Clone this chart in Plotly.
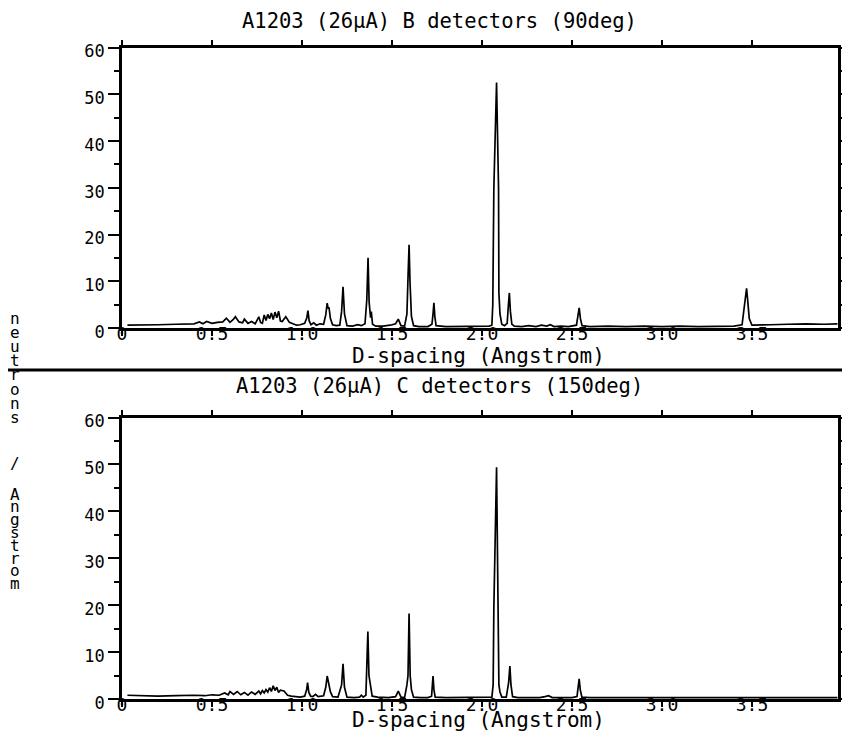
import plotly.graph_objects as go

# ---------------- data ----------------
# Panel 1: B detectors (90deg)
d_B = [
    0.03, 0.10, 0.20, 0.30, 0.36, 0.40,
    0.43, 0.45, 0.47, 0.50, 0.53, 0.56, 0.58, 0.60, 0.62, 0.63,
    0.65, 0.67, 0.68, 0.70, 0.72, 0.74, 0.76, 0.77, 0.78, 0.79,
    0.80, 0.81, 0.82, 0.83, 0.84, 0.85, 0.86, 0.87, 0.88, 0.89,
    0.91, 0.93, 0.95, 0.97, 0.99,
    1.015, 1.027, 1.033, 1.040, 1.050, 1.065, 1.08, 1.10, 1.12, 1.132,
    1.140, 1.145, 1.150, 1.158, 1.170, 1.19, 1.21, 1.220, 1.228, 1.236,
    1.25, 1.28, 1.31, 1.33, 1.350, 1.360, 1.367, 1.373, 1.377, 1.381,
    1.385, 1.392, 1.41, 1.45, 1.49, 1.52, 1.535, 1.55, 1.57, 1.583,
    1.590, 1.595, 1.600, 1.608, 1.62, 1.65,
    1.70, 1.722, 1.728, 1.733, 1.738, 1.745, 1.80, 1.88, 1.95, 2.00,
    2.04, 2.055, 2.060, 2.066, 2.081, 2.092, 2.094, 2.100, 2.110, 2.125,
    2.140, 2.146, 2.152, 2.158, 2.166, 2.18, 2.22, 2.26, 2.30, 2.33,
    2.36, 2.38, 2.40, 2.44, 2.48, 2.525, 2.533, 2.540, 2.547, 2.556,
    2.60, 2.70, 2.80, 2.90, 3.00, 3.10, 3.20, 3.30, 3.40, 3.445,
    3.458, 3.465, 3.470, 3.476, 3.485, 3.50, 3.55, 3.60, 3.70, 3.80,
    3.90, 3.975,
]
n_B = [
    0.6, 0.7, 0.7, 0.8, 0.8, 0.9,
    1.3, 0.9, 1.4, 1.0, 1.2, 1.3, 2.1, 1.2, 1.9, 2.4,
    1.3, 1.1, 1.9, 1.0, 1.4, 0.9, 2.4, 1.2, 1.0, 2.8,
    1.6, 2.9, 2.0, 3.2, 1.8, 3.4, 2.2, 3.6, 1.5, 1.4,
    2.4, 1.2, 0.9, 0.6, 0.7,
    1.0, 2.2, 3.7, 1.5, 0.7, 1.1, 0.6, 0.9, 0.8, 2.8,
    5.3, 4.2, 4.4, 2.0, 0.7, 0.5, 0.6, 3.5, 8.8, 3.0,
    0.5, 0.4, 0.7, 0.5, 0.9, 6.0, 15.0, 5.5, 3.8, 2.2,
    3.5, 0.8, 0.4, 0.4, 0.6, 0.9, 1.9, 0.5, 0.4, 3.0,
    12.0, 17.8, 10.0, 2.5, 0.5, 0.3,
    0.3, 0.8, 3.0, 5.4, 2.5, 0.5, 0.3, 0.3, 0.4, 0.3,
    0.4, 0.6, 5.0, 30.0, 52.5, 30.0, 7.5, 3.0, 0.8, 0.5,
    1.0, 4.5, 7.5, 3.5, 0.8, 0.4, 0.3, 0.5, 0.3, 0.6,
    0.4, 0.7, 0.3, 0.4, 0.3, 0.6, 2.5, 4.3, 2.0, 0.5,
    0.3, 0.4, 0.3, 0.4, 0.3, 0.4, 0.3, 0.4, 0.4, 0.7,
    4.5, 7.5, 8.5, 6.0, 2.0, 0.6, 0.6, 0.7, 0.8, 0.9,
    0.8, 0.9,
]

# Panel 2: C detectors (150deg)
d_C = [
    0.03, 0.10, 0.20, 0.30, 0.40, 0.46, 0.50, 0.54, 0.57, 0.59,
    0.60, 0.62, 0.64, 0.66, 0.68, 0.70, 0.72, 0.74, 0.76, 0.77,
    0.78, 0.79, 0.80, 0.81, 0.82, 0.83, 0.84, 0.85, 0.86, 0.87,
    0.88, 0.90, 0.92, 0.94, 0.97, 0.99,
    1.015, 1.026, 1.031, 1.038, 1.048, 1.060, 1.075, 1.09, 1.12, 1.132,
    1.140, 1.145, 1.150, 1.158, 1.170, 1.20, 1.220, 1.228, 1.236, 1.25,
    1.29, 1.32, 1.330, 1.34, 1.355, 1.360, 1.366, 1.372, 1.378, 1.384,
    1.390, 1.42, 1.48, 1.52, 1.535, 1.55, 1.57, 1.583, 1.589, 1.595,
    1.601, 1.608, 1.62, 1.66, 1.70, 1.720, 1.724, 1.728, 1.733, 1.740,
    1.80, 1.90, 1.98, 2.04, 2.055, 2.062, 2.066, 2.081, 2.092, 2.094,
    2.100, 2.110, 2.135, 2.148, 2.155, 2.161, 2.170, 2.20, 2.26, 2.32,
    2.35, 2.37, 2.39, 2.44, 2.50, 2.528, 2.535, 2.540, 2.546, 2.555,
    2.60, 2.70, 2.80, 2.90, 3.00, 3.20, 3.40, 3.60, 3.80, 3.975,
]
n_C = [
    0.8, 0.7, 0.6, 0.7, 0.8, 0.7, 0.9, 0.8, 1.3, 0.9,
    1.6, 1.0, 1.6, 0.9, 1.4, 0.8, 1.5, 1.0, 1.7, 1.1,
    1.8, 1.3, 2.0, 1.5, 2.4, 1.6, 2.8, 1.8, 2.5, 1.4,
    1.9, 1.7, 0.8, 0.6, 0.5, 0.4,
    0.6, 2.0, 3.5, 1.4, 0.6, 0.5, 1.0, 0.5, 0.7, 2.5,
    4.9, 3.9, 3.2, 1.5, 0.5, 0.4, 3.0, 7.5, 2.5, 0.4,
    0.3, 0.4, 0.8, 0.4, 0.8, 6.0, 14.4, 5.0, 3.3, 1.5,
    0.6, 0.4, 0.3, 0.5, 1.7, 0.4, 0.3, 3.0, 5.0, 18.2,
    5.0, 2.0, 0.4, 0.3, 0.3, 0.6, 2.5, 4.9, 2.0, 0.4,
    0.3, 0.3, 0.3, 0.3, 0.4, 3.0, 19.5, 49.4, 19.5, 3.0,
    1.5, 0.4, 0.4, 3.5, 7.0, 3.0, 0.5, 0.3, 0.3, 0.3,
    0.5, 0.7, 0.3, 0.3, 0.3, 0.5, 2.5, 4.3, 2.0, 0.4,
    0.3, 0.3, 0.3, 0.4, 0.3, 0.3, 0.3, 0.3, 0.3, 0.3,
]
assert len(d_B) == len(n_B), (len(d_B), len(n_B))
assert len(d_C) == len(n_C), (len(d_C), len(n_C))

x_tick_vals = [0, 0.5, 1.0, 1.5, 2.0, 2.5, 3.0, 3.5]
x_tick_text = ["0", "0.5", "1.0", "1.5", "2.0", "2.5", "3.0", "3.5"]
y_tick_vals = [0, 10, 20, 30, 40, 50, 60]
y_tick_text = ["0", "10", "20", "30", "40", "50", "60"]
y_minor_vals = [5, 15, 25, 35, 45, 55]

panel_titles = ["A1203 (26µA) B detectors (90deg)", "A1203 (26µA) C detectors (150deg)"]
x_title = "D-spacing (Angstrom)"
y_title_top = "neutrons"
y_title_bottom = "Angstrom"

# ---------------- layout helpers ----------------
W, H = 850, 735
OX, OY = 8, 8          # page offset of the figure inside the browser window
FONT = "DejaVu Sans Mono"


def px(x):
    return (x - OX) / W


def py(y):
    return 1 - (y - OY) / H


fig = go.Figure()
fig.add_trace(go.Scatter(x=d_B, y=n_B, mode="lines", xaxis="x", yaxis="y",
                         line=dict(color="black", width=1.7), showlegend=False,
                         name="B detectors"))
fig.add_trace(go.Scatter(x=d_C, y=n_C, mode="lines", xaxis="x2", yaxis="y2",
                         line=dict(color="black", width=1.7), showlegend=False,
                         name="C detectors"))

x_dom = [px(122), px(838)]
xa = dict(domain=x_dom, range=[0, 3.978], tickmode="array", tickvals=x_tick_vals,
          ticktext=x_tick_text, ticks="outside", ticklen=5, tickwidth=1.5,
          tickcolor="black", showline=True, linewidth=2.5, linecolor="black",
          mirror="ticks", showgrid=False, zeroline=False, automargin=False,
          ticklabelstandoff=-17,
          tickfont=dict(family=FONT, size=18, color="black"))
ya = dict(range=[0, 60], tickmode="array", tickvals=y_tick_vals, ticktext=y_tick_text,
          ticks="outside", ticklen=11, tickwidth=1.5, tickcolor="black",
          minor=dict(tickmode="array", tickvals=y_minor_vals, ticks="outside",
                     ticklen=5, tickwidth=1.5, tickcolor="black", showgrid=False),
          showline=True, linewidth=2.5, linecolor="black", mirror="ticks",
          showgrid=False, zeroline=False, automargin=False, ticklabelshift=4,
          tickfont=dict(family=FONT, size=17, color="black"))

fig.update_layout(
    template="none",
    autosize=False,
    width=W, height=H,
    margin=dict(l=0, r=0, t=0, b=0, pad=0),
    paper_bgcolor="white", plot_bgcolor="white",
    xaxis=dict(xa, anchor="y"),
    yaxis=dict(ya, anchor="x", domain=[py(328), py(47.5)]),
    xaxis2=dict(xa, anchor="y2"),
    yaxis2=dict(ya, anchor="x2", domain=[py(699), py(417.5)]),
    showlegend=False,
)

ann = []
for t, yy in zip(panel_titles, [21, 386]):
    ann.append(dict(text=t, x=px(440), y=py(yy), xref="paper", yref="paper",
                    xanchor="center", yanchor="middle", showarrow=False,
                    font=dict(family=FONT, size=20.5, color="black")))
for yy in [356, 720]:
    ann.append(dict(text=x_title, x=px(478), y=py(yy), xref="paper", yref="paper",
                    xanchor="center", yanchor="middle", showarrow=False,
                    font=dict(family=FONT, size=21, color="black")))

# stacked vertical y-axis title
for i, ch in enumerate(y_title_top):
    ann.append(dict(text=ch, x=px(15), y=py(318 + 14.2 * i), xref="paper", yref="paper",
                    xanchor="center", yanchor="middle", showarrow=False,
                    font=dict(family=FONT, size=16, color="black")))
ann.append(dict(text="/", x=px(15), y=py(463), xref="paper", yref="paper",
                xanchor="center", yanchor="middle", showarrow=False,
                font=dict(family=FONT, size=16, color="black")))
for i, ch in enumerate(y_title_bottom):
    ann.append(dict(text=ch, x=px(15), y=py(494 + 12.8 * i), xref="paper", yref="paper",
                    xanchor="center", yanchor="middle", showarrow=False,
                    font=dict(family=FONT, size=16, color="black")))
fig.update_layout(annotations=ann)

# separator line between the two panels
fig.add_shape(type="line", xref="paper", yref="paper",
              x0=px(8), x1=1, y0=py(370), y1=py(370),
              line=dict(color="black", width=3))

fig.write_html("out.html")
